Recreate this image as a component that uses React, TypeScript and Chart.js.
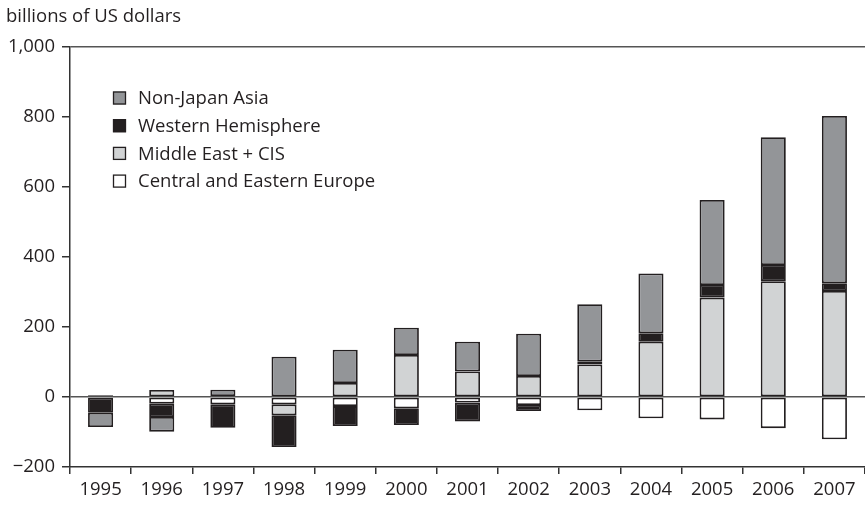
import React, { useEffect, useRef } from "react";
import { Chart, registerables } from "chart.js";

Chart.register(...registerables);

const years = ["1995", "1996", "1997", "1998", "1999", "2000", "2001", "2002", "2003", "2004", "2005", "2006", "2007"];
const centralEasternEurope = [-2, -19, -21, -21, -26, -32, -16, -23, -38, -61, -64, -89, -121];
const middleEastCIS = [5, 20, 3, -31, 40, 120, 73, 60, 93, 158, 284, 331, 303];
const westernHemisphere = [-43, -38, -67, -91, -57, -48, -54, -17, 8, 24, 36, 46, 22];
const nonJapanAsia = [-41, -42, 18, 115, 95, 78, 85, 121, 164, 171, 243, 365, 478];

const yTicks = [-200, 0, 200, 400, 600, 800, 1000];
const yTitle = "billions of US dollars";

const FONT = "'Open Sans', 'DejaVu Sans', sans-serif";
const INK = "#231f20";

const legendAndTitle = {
  id: "legendAndTitle",
  afterDraw(chart: any) {
    const ctx = chart.ctx;
    ctx.save();
    ctx.fillStyle = INK;
    ctx.font = `18.5px ${FONT}`;
    ctx.textAlign = "left";
    ctx.textBaseline = "alphabetic";
    ctx.fillText(yTitle, 6, 22);
    const items = [...chart.data.datasets].reverse();
    const x0 = 113;
    const y0 = 98;
    const gap = 27.7;
    items.forEach((ds: any, i: number) => {
      const cy = y0 + i * gap;
      ctx.fillStyle = ds.backgroundColor;
      ctx.fillRect(x0, cy - 6.5, 13, 13);
      ctx.strokeStyle = INK;
      ctx.lineWidth = 1.3;
      ctx.strokeRect(x0 + 0.5, cy - 6, 12, 12);
      ctx.fillStyle = INK;
      ctx.textBaseline = "middle";
      ctx.fillText(ds.label, 138, cy + 1);
    });
    ctx.restore();
  },
};

export default function App() {
  const ref = useRef<HTMLCanvasElement | null>(null);
  useEffect(() => {
    if (!ref.current) return;
    const common = { borderColor: INK, borderWidth: 1.8, borderSkipped: false, barPercentage: 0.41, categoryPercentage: 1 };
    const chart = new Chart(ref.current, {
      type: "bar",
      data: {
        labels: years,
        datasets: [
          { label: "Central and Eastern Europe", data: centralEasternEurope, backgroundColor: "#ffffff", ...common },
          { label: "Middle East + CIS", data: middleEastCIS, backgroundColor: "#d1d3d4", ...common },
          { label: "Western Hemisphere", data: westernHemisphere, backgroundColor: "#231f20", ...common },
          { label: "Non-Japan Asia", data: nonJapanAsia, backgroundColor: "#939598", ...common },
        ],
      },
      options: {
        animation: false,
        responsive: false,
        devicePixelRatio: 1,
        layout: { padding: { left: 0, right: 0, top: 47, bottom: 0 } },
        plugins: { legend: { display: false }, tooltip: { enabled: false }, title: { display: false } },
        scales: {
          x: {
            stacked: true,
            offset: true,
            grid: { offset: true, drawOnChartArea: false, drawTicks: true, tickLength: 7, tickColor: "#333", lineWidth: 1.5 },
            border: { display: true, color: "#333", width: 1.5 },
            ticks: { color: INK, font: { family: FONT, size: 18.5 }, padding: 5, maxRotation: 0, autoSkip: false },
            afterFit(scale: any) { scale.height = 38; },
          },
          y: {
            stacked: true,
            min: -200,
            max: 1000,
            afterBuildTicks(scale: any) { scale.ticks = yTicks.map((v) => ({ value: v })); },
            grid: {
              color: (c: any) => (c.tick && (c.tick.value === 0 || c.tick.value === 1000) ? "#555" : "rgba(0,0,0,0)"),
              tickColor: "#333",
              lineWidth: 1.5,
              tickLength: 8,
              drawTicks: true,
            },
            border: { display: true, color: "#333", width: 1.5 },
            ticks: {
              color: INK,
              font: { family: FONT, size: 18.5 },
              padding: 7,
              callback: (v: any) => (v < 0 ? "\u2212" + Math.abs(v) : Number(v).toLocaleString("en-US")),
            },
            afterFit(scale: any) { scale.width = 70; },
          },
        },
      },
      plugins: [legendAndTitle],
    } as any);
    return () => chart.destroy();
  }, []);
  return (
    <div style={{ position: "absolute", left: 0, top: 0, width: 865, height: 505, background: "#fff" }}>
      <canvas ref={ref} width={865} height={505} style={{ width: 865, height: 505, display: "block" }} />
    </div>
  );
}
